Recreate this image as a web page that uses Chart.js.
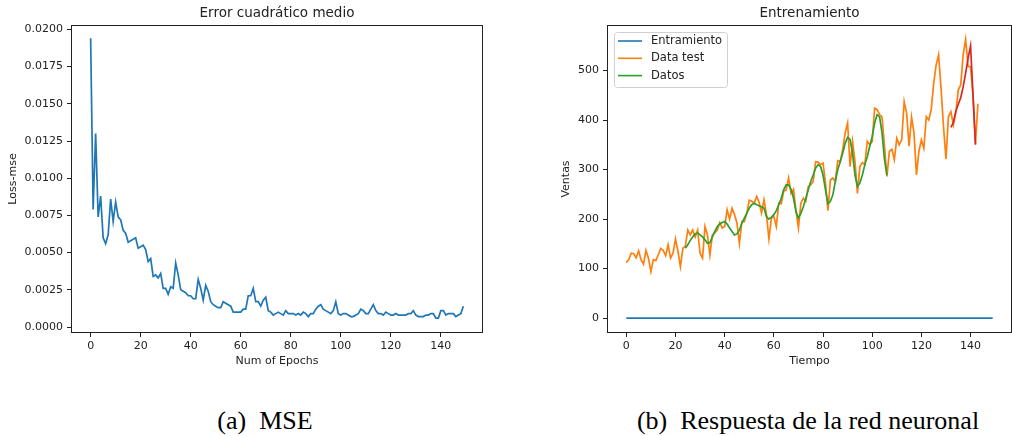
<!DOCTYPE html>
<html>
<head>
<meta charset="utf-8">
<script src="https://cdn.jsdelivr.net/npm/chart.js@4.4.1/dist/chart.umd.min.js"></script>
<style>
  body { margin: 0; background: #fff; width: 1012px; height: 436px; position: relative; overflow: hidden; }
  .panel { position: absolute; top: 0; height: 380px; }
  #p1 { left: 0; width: 500px; }
  #p2 { left: 540px; width: 472px; }
  .caption { position: absolute; top: 406px; font-family: "Liberation Serif", "Times New Roman", serif; font-size: 26px; line-height: 30px; color: #000; white-space: pre; transform: translateX(-50%); }
</style>
</head>
<body>
<div class="panel" id="p1"><canvas id="mseChart"></canvas></div>
<div class="panel" id="p2"><canvas id="ventasChart"></canvas></div>
<div class="caption" style="left:265px">(a)  MSE</div>
<div class="caption" style="left:808px">(b)  Respuesta de la red neuronal</div>
<script>
// datos
const mseLoss = [
  0.0194, 0.0079, 0.0130, 0.0074, 0.0088, 0.0060, 0.0056, 0.0062, 0.0086, 0.0071,
  0.0084, 0.0074, 0.0072, 0.0065, 0.0063, 0.0057, 0.0058, 0.0059, 0.0060, 0.0053,
  0.0054, 0.0055, 0.0052, 0.0044, 0.0046, 0.0034, 0.0035, 0.0033, 0.0036, 0.0026,
  0.0026, 0.0022, 0.0027, 0.0026, 0.0043, 0.0035, 0.0025, 0.0024, 0.0023, 0.0021,
  0.0021, 0.0019, 0.0019, 0.0032, 0.0026, 0.0018, 0.0028, 0.0024, 0.0017, 0.0015,
  0.0014, 0.0013, 0.0013, 0.0017, 0.0016, 0.0015, 0.0014, 0.0010, 0.0010, 0.0010,
  0.0010, 0.0012, 0.0012, 0.0021, 0.0021, 0.0026, 0.0017, 0.0017, 0.0014, 0.0018,
  0.0020, 0.0011, 0.0010, 0.0008, 0.0009, 0.0010, 0.0009, 0.0008, 0.0011, 0.0009,
  0.0009, 0.0009, 0.0008, 0.0009, 0.0008, 0.0010, 0.0009, 0.0007, 0.0009, 0.0009,
  0.0012, 0.0014, 0.0015, 0.0012, 0.0011, 0.0010, 0.0009, 0.0011, 0.0017, 0.0009,
  0.0008, 0.0009, 0.0009, 0.0008, 0.0007, 0.0007, 0.0008, 0.0009, 0.0012, 0.0011,
  0.0009, 0.0009, 0.0012, 0.0015, 0.0011, 0.0009, 0.0009, 0.0008, 0.0010, 0.0009,
  0.0008, 0.0008, 0.0009, 0.0008, 0.0008, 0.0008, 0.0008, 0.0009, 0.0009, 0.0011,
  0.0008, 0.0007, 0.0007, 0.0007, 0.0008, 0.0008, 0.0009, 0.0009, 0.0006, 0.0006,
  0.0011, 0.0011, 0.0008, 0.0009, 0.0009, 0.0009, 0.0007, 0.0008, 0.0009, 0.0014
];
const mseTicks = [0, 0.0025, 0.005, 0.0075, 0.01, 0.0125, 0.015, 0.0175, 0.02];
const epochTicks = [0, 20, 40, 60, 80, 100, 120, 140];

const dataTest = [
  112, 118, 131, 130, 122, 136, 118, 109, 137, 121,
  94, 118, 116, 128, 141, 137, 126, 148, 121, 131,
  160, 135, 104, 141, 145, 178, 168, 178, 164, 178,
  131, 121, 185, 168, 127, 168, 172, 178, 193, 182,
  185, 219, 200, 222, 209, 192, 151, 195, 195, 212,
  238, 236, 232, 246, 234, 212, 239, 209, 160, 202,
  205, 185, 232, 231, 256, 259, 283, 252, 260, 217,
  182, 232, 242, 236, 266, 269, 276, 316, 315, 310,
  313, 273, 217, 279, 283, 276, 318, 316, 340, 374,
  394, 306, 357, 316, 252, 306, 314, 310, 357, 350,
  357, 424, 421, 411, 406, 347, 286, 337, 341, 320,
  363, 350, 360, 437, 414, 347, 406, 374, 289, 337,
  360, 343, 407, 400, 421, 474, 511, 532, 464, 387,
  321, 407, 417, 390, 414, 461, 471, 532, 563, 508,
  508, 450, 352, 433
];
const datosStart = 24;
const datos = [
  141, 148, 157, 164, 170, 172, 168, 164, 158, 151,
  152, 164, 175, 185, 190, 193, 195, 190, 182, 175,
  168, 170, 178, 192, 202, 212, 222, 229, 232, 229,
  227, 225, 222, 205, 200, 204, 209, 217, 229, 242,
  259, 269, 269, 260, 242, 215, 202, 212, 225, 242,
  259, 276, 289, 303, 310, 306, 289, 259, 231, 236,
  249, 276, 300, 316, 333, 353, 365, 361, 333, 289,
  266, 273, 289, 310, 326, 347, 367, 394, 411, 407,
  374, 320, 289
];
const prediccionStart = 132;
const prediccion = [385, 395, 418, 432, 445, 467, 495, 525, 550, 450, 350];
const entrenamientoX = [0, 149];
const entrenamientoY = [0, 0];
const ventasTicks = [0, 100, 200, 300, 400, 500];
const tiempoTicks = [0, 20, 40, 60, 80, 100, 120, 140];

const TXT = '#222';
Chart.defaults.font.family = 'DejaVu Sans';
Chart.defaults.font.size = 11;
Chart.defaults.color = TXT;
Chart.defaults.animation = false;

// marco + titulo centrado sobre los ejes
const frameTitle = {
  id: 'frameTitle',
  afterDraw(chart, args, opts) {
    const { ctx, chartArea: a } = chart;
    ctx.save();
    ctx.strokeStyle = TXT;
    ctx.lineWidth = 1;
    ctx.strokeRect(a.left - 0.5, a.top - 0.5, a.right - a.left + 1, a.bottom - a.top + 1);
    ctx.fillStyle = TXT;
    ctx.font = '13.5px DejaVu Sans';
    ctx.textAlign = 'center';
    ctx.textBaseline = 'middle';
    ctx.fillText(opts.text, (a.left + a.right) / 2, 13);
    ctx.restore();
  }
};

// leyenda dentro del area, arriba a la izquierda
const boxLegend = {
  id: 'boxLegend',
  afterDraw(chart) {
    const { ctx, chartArea: a } = chart;
    const items = chart.data.datasets.filter(d => d.label);
    const x = a.left + 6, y = a.top + 6, w = 113, h = 55;
    ctx.save();
    ctx.beginPath();
    ctx.roundRect(x + 0.5, y + 0.5, w, h, 3);
    ctx.fillStyle = 'rgba(255,255,255,0.8)';
    ctx.fill();
    ctx.strokeStyle = '#d0d0d0';
    ctx.lineWidth = 1;
    ctx.stroke();
    ctx.font = '11.5px DejaVu Sans';
    ctx.textBaseline = 'middle';
    items.forEach((d, i) => {
      const ry = y + 9 + i * 17.3;
      ctx.strokeStyle = d.borderColor;
      ctx.lineWidth = 1.6;
      ctx.beginPath();
      ctx.moveTo(x + 4, ry);
      ctx.lineTo(x + 28, ry);
      ctx.stroke();
      ctx.fillStyle = TXT;
      ctx.fillText(d.label, x + 37, ry);
    });
    ctx.restore();
  }
};

function xAxis(ticks, title, min, max) {
  return {
    type: 'linear', min: min, max: max,
    afterBuildTicks: s => { s.ticks = ticks.map(v => ({ value: v })); },
    afterFit: s => { s.height = 48; s.paddingLeft = 0; s.paddingRight = 0; },
    grid: { drawOnChartArea: false, drawTicks: true, tickLength: 5, color: TXT },
    border: { display: false },
    ticks: { padding: 3, color: TXT, maxRotation: 0, callback: v => String(v) },
    title: { display: true, text: title, color: TXT, padding: { top: 0, bottom: 12.4 } }
  };
}

function yAxis(ticks, title, min, max, width, titlePad, fmt) {
  return {
    type: 'linear', min: min, max: max,
    afterBuildTicks: s => { s.ticks = ticks.map(v => ({ value: v })); },
    afterFit: s => { s.width = width; s.paddingTop = 0; s.paddingBottom = 0; },
    grid: { drawOnChartArea: false, drawTicks: true, tickLength: 5, color: TXT },
    border: { display: false },
    ticks: { padding: 4, color: TXT, callback: fmt },
    title: { display: true, text: title, color: TXT, padding: { top: titlePad, bottom: 0 } }
  };
}

new Chart(document.getElementById('mseChart'), {
  type: 'line',
  data: {
    datasets: [{
      data: mseLoss.map((v, i) => ({ x: i, y: v })),
      borderColor: '#1f77b4', borderWidth: 1.7, pointRadius: 0, tension: 0
    }]
  },
  options: {
    responsive: true, maintainAspectRatio: false,
    layout: { padding: { top: 26, right: 18, left: 0, bottom: 0 } },
    plugins: { legend: { display: false }, tooltip: { enabled: false }, frameTitle: { text: 'Error cuadrático medio' } },
    scales: {
      x: xAxis(epochTicks, 'Num of Epochs', -7.45, 156.45),
      y: yAxis(mseTicks, 'Loss-mse', -0.000336, 0.02023, 72, 6.7, v => v.toFixed(4))
    }
  },
  plugins: [frameTitle]
});

// order: el menor se dibuja encima (rojo sobre verde sobre naranja)
new Chart(document.getElementById('ventasChart'), {
  type: 'line',
  data: {
    datasets: [
      { label: 'Entramiento', data: entrenamientoX.map((x, i) => ({ x: x, y: entrenamientoY[i] })), borderColor: '#1f77b4', order: 4 },
      { label: 'Data test', data: dataTest.map((v, i) => ({ x: i, y: v })), borderColor: '#ff7f0e', order: 3 },
      { label: 'Datos', data: datos.map((v, i) => ({ x: datosStart + i, y: v })), borderColor: '#2ca02c', order: 2 },
      { data: prediccion.map((v, i) => ({ x: prediccionStart + i, y: v })), borderColor: '#d62728', order: 1 }
    ].map(d => Object.assign(d, { borderWidth: 1.7, pointRadius: 0, tension: 0 }))
  },
  options: {
    responsive: true, maintainAspectRatio: false,
    layout: { padding: { top: 26, right: 1, left: 0, bottom: 0 } },
    plugins: { legend: { display: false }, tooltip: { enabled: false }, frameTitle: { text: 'Entrenamiento' } },
    scales: {
      x: xAxis(tiempoTicks, 'Tiempo', -7.45, 156.45),
      y: yAxis(ventasTicks, 'Ventas', -28.1, 590, 68, 19.4, v => String(v))
    }
  },
  plugins: [frameTitle, boxLegend]
});
</script>
</body>
</html>
